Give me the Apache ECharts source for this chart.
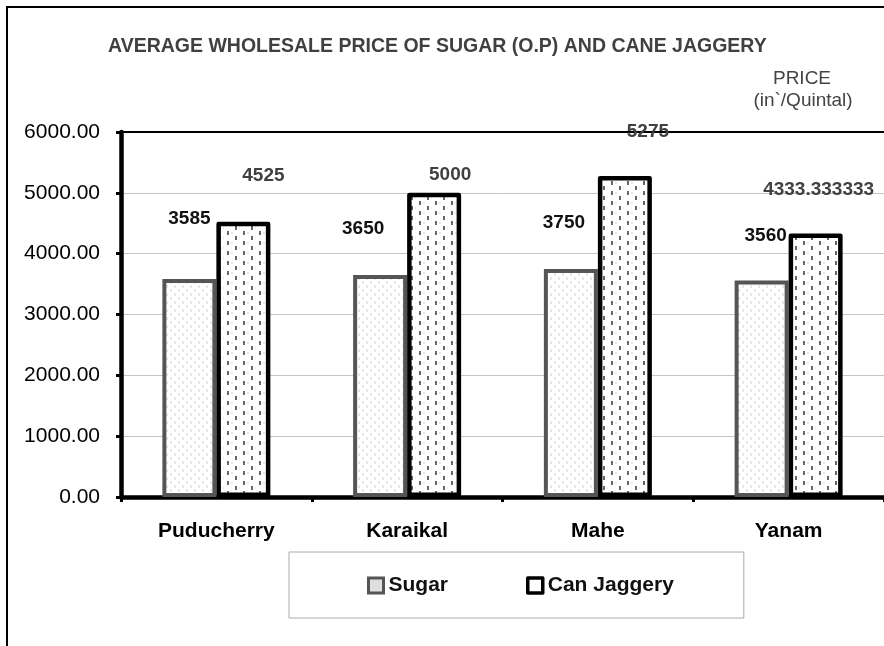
<!DOCTYPE html>
<html>
<head>
<meta charset="utf-8" />
<title>Average wholesale price</title>
<script src="https://cdn.jsdelivr.net/npm/echarts@6/dist/echarts.min.js"></script>
<style>
    html, body { margin: 0; padding: 0; background: #fff; }
    #main { width: 884px; height: 646px; }
</style>
</head>
<body>
<div id="main"></div>
<script type="text/javascript">
    var categories = ['Puducherry', 'Karaikal', 'Mahe', 'Yanam'];
    var sugar = [3585, 3650, 3750, 3560];
    var jaggery = [4525, 5000, 5275, 4333.333333];
    var yTicks = [0, 1000, 2000, 3000, 4000, 5000, 6000];

    // where excel left the data labels, relative to the bar top
    var sugarLabelOffset = [[0, -60], [-17, -46], [-7, -46], [4, -45]];
    var jaggeryLabelOffset = [[20, -46], [16, -18], [23, -44], [3, -44]];

    var FONT = "'Liberation Sans', Arial, sans-serif";

    // small canvas tiles for the hatch-like fills
    function makeTile(w, h, draw) {
        var c = document.createElement('canvas');
        c.width = w; c.height = h;
        var ctx = c.getContext('2d');
        ctx.fillStyle = '#fff';
        ctx.fillRect(0, 0, w, h);
        draw(ctx);
        return c;
    }
    var sugarTile = makeTile(8, 8, function (ctx) {
        ctx.fillStyle = '#e8e8e8';
        ctx.fillRect(2, 1, 2, 3);
        ctx.fillRect(6, 5, 2, 3);
    });
    var jaggeryTile = makeTile(16, 10, function (ctx) {
        ctx.fillStyle = '#e8e8e8';
        ctx.fillRect(7, 2, 2, 2);
        ctx.fillRect(15, 7, 1, 2);
        ctx.fillStyle = '#666';
        ctx.fillRect(3, 1, 2, 4);
        ctx.fillRect(11, 6, 2, 4);
    });

    function withLabels(values, offsets) {
        var out = [];
        for (var i = 0; i < values.length; i++) {
            out.push({ value: values[i], label: { offset: offsets[i] } });
        }
        return out;
    }

    var myChart = echarts.init(document.getElementById('main'));
    myChart.setOption({
        animation: false,
        backgroundColor: '#fff',
        title: {
            text: 'AVERAGE WHOLESALE PRICE OF SUGAR (O.P) AND CANE JAGGERY',
            left: 108,
            top: 37,
            padding: 0,
            textStyle: { fontFamily: FONT, fontSize: 19.5, fontWeight: 'bold', color: '#404040' }
        },
        graphic: [
            {
                type: 'rect', z: 100, silent: true,
                shape: { x: 7, y: 7, width: 1000, height: 1000 },
                style: { fill: 'none', stroke: '#000', lineWidth: 2 }
            },
            {
                type: 'text', x: 802, y: 79,
                style: { text: 'PRICE', font: '19px ' + FONT, fill: '#444', textAlign: 'center', textVerticalAlign: 'middle' }
            },
            {
                type: 'text', x: 803, y: 101,
                style: { text: '(in`/Quintal)', font: '19px ' + FONT, fill: '#444', textAlign: 'center', textVerticalAlign: 'middle' }
            }
        ],
        legend: {
            left: 289,
            top: 552,
            padding: [23, 70, 22, 78],
            itemGap: 78,
            itemWidth: 15,
            itemHeight: 15,
            icon: 'rect',
            borderColor: '#aaa',
            borderWidth: 1,
            textStyle: { fontFamily: FONT, fontSize: 21, fontWeight: 'bold', color: '#111' },
            data: [
                { name: 'Sugar', itemStyle: { color: '#e0e0e0', borderColor: '#555', borderWidth: 3 } },
                { name: 'Can Jaggery', itemStyle: { color: '#fff', borderColor: '#000', borderWidth: 3.5 } }
            ]
        },
        grid: { left: 121, top: 132, width: 772, height: 365 },
        xAxis: [
            {
                type: 'category',
                data: categories,
                axisLine: { lineStyle: { color: '#000', width: 4.5 } },
                axisTick: { show: true, length: 5, lineStyle: { color: '#000', width: 3 } },
                axisLabel: { margin: 24, fontFamily: FONT, fontSize: 21, fontWeight: 'bold', color: '#000' }
            },
            {
                // plot area top edge
                type: 'category',
                position: 'top',
                data: categories,
                axisLine: { lineStyle: { color: '#000', width: 2 } },
                axisTick: { show: false },
                axisLabel: { show: false }
            }
        ],
        yAxis: {
            type: 'value',
            min: yTicks[0],
            max: yTicks[yTicks.length - 1],
            interval: yTicks[1] - yTicks[0],
            axisLine: { show: true, lineStyle: { color: '#000', width: 4.5 } },
            axisTick: { show: true, length: 5, lineStyle: { color: '#000', width: 3 } },
            axisLabel: {
                margin: 21,
                fontFamily: FONT, fontSize: 21, color: '#000',
                formatter: function (v) { return v.toFixed(2); }
            },
            splitLine: { lineStyle: { color: '#c4c4c4', width: 1 } }
        },
        series: [
            {
                name: 'Sugar',
                type: 'bar',
                barWidth: 54,
                barGap: '0%',
                data: withLabels(sugar, sugarLabelOffset),
                itemStyle: {
                    color: { image: sugarTile, repeat: 'repeat' },
                    borderColor: '#555',
                    borderWidth: 4
                },
                label: {
                    show: true, position: 'top', distance: 0, verticalAlign: 'middle',
                    fontFamily: FONT, fontSize: 19, fontWeight: 'bold', color: '#111'
                }
            },
            {
                name: 'Can Jaggery',
                type: 'bar',
                barWidth: 54,
                barGap: '0%',
                data: withLabels(jaggery, jaggeryLabelOffset),
                itemStyle: {
                    color: { image: jaggeryTile, repeat: 'repeat' },
                    borderColor: '#000',
                    borderWidth: 4.5,
                    borderJoin: 'round'
                },
                label: {
                    show: true, position: 'top', distance: 0, verticalAlign: 'middle',
                    fontFamily: FONT, fontSize: 19, fontWeight: 'bold', color: '#404040',
                    formatter: function (p) { return String(p.value); }
                }
            }
        ]
    });
</script>
</body>
</html>
